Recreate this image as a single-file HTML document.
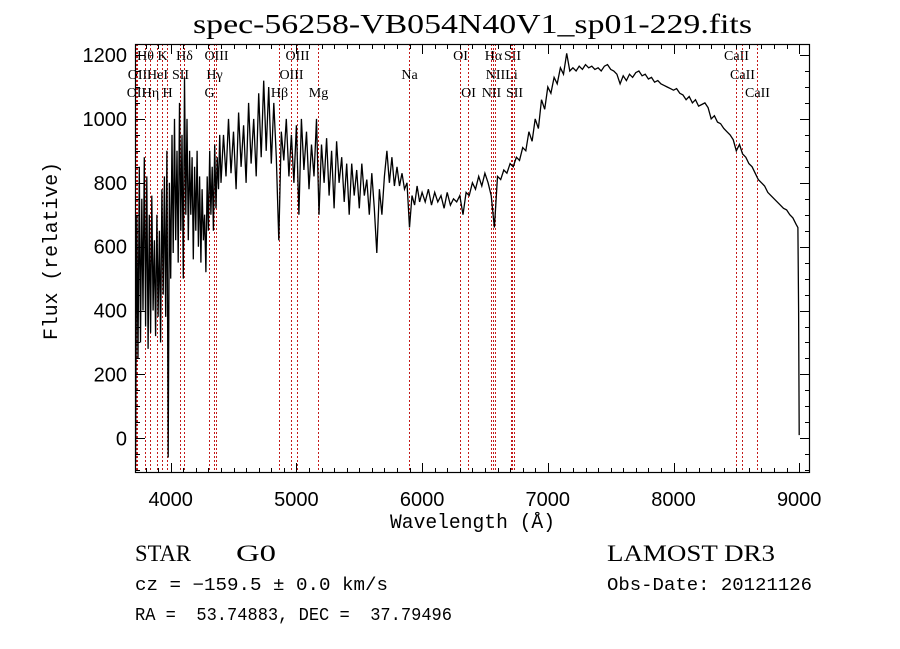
<!DOCTYPE html>
<html><head><meta charset="utf-8"><style>
html,body{margin:0;padding:0;background:#fff;}
svg{display:block;}
</style></head><body>
<svg id="chart" width="900" height="649" viewBox="0 0 900 649" xmlns="http://www.w3.org/2000/svg">
<rect x="0" y="0" width="900" height="649" fill="#fff"/>
<text x="193" y="33" font-family="Liberation Serif, serif" font-size="27" textLength="559" lengthAdjust="spacingAndGlyphs">spec-56258-VB054N40V1_sp01-229.fits</text>
<g id="lines"></g>
<g id="ticks"></g>
<path id="spec" fill="none" stroke="#000" stroke-width="1.3" clip-path="url(#clip)"/>
<clipPath id="clip"><rect x="135" y="44" width="675" height="429"/></clipPath>
<rect x="135.5" y="44.5" width="674" height="428" fill="none" stroke="#000" stroke-width="1.2"/>
<text x="390" y="528" font-family="Liberation Mono, monospace" font-size="20" textLength="165" lengthAdjust="spacingAndGlyphs">Wavelength (Å)</text>
<text transform="translate(57,340) rotate(-90)" font-family="Liberation Mono, monospace" font-size="20" textLength="178" lengthAdjust="spacingAndGlyphs">Flux (relative)</text>
<text x="135" y="561" font-family="Liberation Serif, serif" font-size="23" textLength="56" lengthAdjust="spacingAndGlyphs">STAR</text>
<text x="236" y="561" font-family="Liberation Serif, serif" font-size="23" textLength="40" lengthAdjust="spacingAndGlyphs">G0</text>
<text x="607" y="561" font-family="Liberation Serif, serif" font-size="23" textLength="168" lengthAdjust="spacingAndGlyphs">LAMOST DR3</text>
<text x="135" y="590" font-family="Liberation Mono, monospace" font-size="18" textLength="253" lengthAdjust="spacingAndGlyphs">cz = −159.5 ± 0.0 km/s</text>
<text x="607" y="590" font-family="Liberation Mono, monospace" font-size="18" textLength="205" lengthAdjust="spacingAndGlyphs">Obs-Date: 20121126</text>
<text x="135" y="620" font-family="Liberation Mono, monospace" font-size="18" textLength="317" lengthAdjust="spacingAndGlyphs" xml:space="preserve">RA =  53.74883, DEC =  37.79496</text>
</svg>
<script>
const waves = [3720,3730,3740,3750,3760,3770,3780,3790,3800,3810,3820,3830,3840,3850,3860,3870,3880,3890,3900,3910,3920,3930,3940,3950,3960,3970,3980,3990,4000,4010,4020,4030,4040,4050,4060,4070,4080,4090,4100,4110,4120,4130,4140,4150,4160,4170,4180,4190,4200,4210,4220,4230,4240,4250,4260,4270,4280,4290,4300,4310,4320,4330,4340,4350,4360,4370,4380,4390,4400,
4420,4440,4460,4480,4500,4520,4540,4560,4580,4600,4620,4640,4660,4680,4700,4720,4740,4760,4780,4800,4820,4840,4860,4880,4900,4920,4940,4960,4980,5000,5020,5040,5060,5080,5100,5120,5140,5160,5180,5200,5220,5240,5260,5280,5300,5320,5340,5360,5380,5400,5420,5440,5460,5480,5500,5520,5540,5560,5580,5600,5620,5640,5660,5680,5700,5720,5740,5760,5780,5800,5820,5840,5860,5880,5900,5920,5940,5960,5980,6000,
6025,6050,6075,6100,6125,6150,6175,6200,6225,6250,6275,6300,6325,6350,6375,6400,6425,6450,6475,6500,6525,6550,6575,6600,6625,6650,6675,6700,6725,6750,6775,6800,6825,6850,6875,6900,6925,6950,6975,7000,7025,7050,7075,7100,7125,7150,7175,7200,7225,7250,7275,7300,7325,7350,7375,7400,7425,7450,7475,7500,7525,7550,7575,7600,7625,7650,7675,7700,7725,7750,7775,7800,7825,7850,7875,7900,7925,7950,7975,8000,8025,8050,8075,8100,8125,8150,8175,8200,8225,8250,8275,8300,8325,8350,8375,8400,8425,8450,8475,8500,8525,8550,8575,8600,8625,8650,8675,8700,8725,8750,8775,8800,8825,8850,8875,8900,8925,8950,8975,8990,8995,9000];
const flux = [-80,700,250,850,300,750,400,880,350,820,280,700,330,760,400,620,320,700,380,650,300,780,450,820,380,900,-60,800,500,950,580,1000,620,900,550,1050,650,950,500,1130,700,1000,620,900,700,880,560,850,650,900,600,820,550,780,620,700,520,820,650,900,700,850,650,920,720,880,780,950,800,
950,820,1000,830,960,780,1020,850,980,800,1050,860,1000,820,1080,880,1120,900,1100,860,1050,880,620,960,870,1000,820,950,800,980,700,1000,840,960,780,920,820,1000,700,920,800,940,760,900,720,930,800,880,740,860,700,860,760,840,720,860,760,810,700,830,720,580,780,700,820,900,800,880,790,850,790,830,780,800,660,760,730,790,740,770,
740,780,730,770,740,760,720,770,730,750,740,760,700,770,760,800,780,820,790,830,800,760,660,820,810,840,830,860,850,880,870,910,900,960,930,1000,970,1060,1030,1100,1080,1130,1110,1160,1140,1205,1150,1160,1150,1165,1155,1170,1160,1165,1155,1160,1150,1165,1170,1155,1150,1140,1110,1135,1120,1140,1130,1145,1150,1135,1140,1125,1130,1115,1120,1110,1105,1100,1095,1090,1095,1080,1075,1060,1070,1050,1060,1040,1045,1050,1035,1000,1010,990,985,970,960,950,935,900,920,890,880,860,850,830,810,800,790,770,760,750,740,730,720,715,700,690,670,660,400,10];
const lineWaves = [3798,3934,4102,4363,5007,6300,6563,6717,8498, 3729,3889,4072,4341,4959,5894,6583,6708,8542, 3726,3835,3969,4304,4861,5175,6364,6548,6731,8662];
const lineNames = ["Hθ","K","Hδ","OIII","OIII","OI","Hα","SII","CaII", "OII","HeI","SII","Hγ","OIII","Na","NII","Li","CaII", "OII","Hη","H","G","Hβ","Mg","OI","NII","SII","CaII"];
const lineRows = [0,0,0,0,0,0,0,0,0, 1,1,1,1,1,1,1,1,1, 2,2,2,2,2,2,2,2,2,2];
const xTickLabels = [4000,5000,6000,7000,8000,9000];
const yTickLabels = [0,200,400,600,800,1000,1200];

const NS = "http://www.w3.org/2000/svg";
const X0 = 135, X1 = 810, Y0 = 473, Y1 = 44;
function xScale(w){ return 170.7 + (w - 4000) * 0.1257; }
function yScale(v){ return 438.3 - v * 0.3194; }
const wMin = 4000 - (170.7 - X0) / 0.1257, wMax = 4000 + (X1 - 170.7) / 0.1257;
const vMin = (438.3 - Y0) / 0.3194, vMax = (438.3 - Y1) / 0.3194;

// spectrum
let d = "";
for (let i = 0; i < waves.length; i++) {
  d += (i ? "L" : "M") + xScale(waves[i]).toFixed(1) + "," + yScale(flux[i]).toFixed(1);
}
document.getElementById("spec").setAttribute("d", d);

// line markers
const lg = document.getElementById("lines");
const rowY = [60, 79, 97];
for (let i = 0; i < lineWaves.length; i++) {
  const x = Math.round(xScale(lineWaves[i])) + 0.5;
  const ln = document.createElementNS(NS, "line");
  ln.setAttribute("x1", x); ln.setAttribute("x2", x);
  ln.setAttribute("y1", Y1); ln.setAttribute("y2", Y0);
  ln.setAttribute("stroke", "#c41a1a"); ln.setAttribute("stroke-width", "1");
  ln.setAttribute("stroke-dasharray", "2,2");
  
  
  lg.appendChild(ln);
  const t = document.createElementNS(NS, "text");
  t.setAttribute("x", x); t.setAttribute("y", rowY[lineRows[i]]);
  t.setAttribute("text-anchor", "middle");
  t.setAttribute("font-family", "Liberation Serif, serif");
  t.setAttribute("font-size", "14");
  t.textContent = lineNames[i];
  
  
  lg.appendChild(t);
}

// ticks
const tg = document.getElementById("ticks");
function tick(x1, y1, x2, y2) {
  const l = document.createElementNS(NS, "line");
  l.setAttribute("x1", x1); l.setAttribute("y1", y1); l.setAttribute("x2", x2); l.setAttribute("y2", y2);
  l.setAttribute("stroke", "#000"); l.setAttribute("stroke-width", "1");
  
  
  tg.appendChild(l);
}
for (let w = 3800; w <= wMax; w += 100) {
  const x = Math.round(xScale(w)) + 0.5;
  const len = (w % 1000 === 0) ? 10 : 5;
  tick(x, Y0, x, Y0 - len);
  tick(x, Y1, x, Y1 + len);
}
for (let v = -100; v <= vMax; v += 50) {
  const y = Math.round(yScale(v)) + 0.5;
  const len = (v % 200 === 0) ? 10 : 5;
  tick(X0, y, X0 + len, y);
  tick(X1, y, X1 - len, y);
}
xTickLabels.forEach(w => {
  const t = document.createElementNS(NS, "text");
  t.setAttribute("x", xScale(w)); t.setAttribute("y", 506);
  t.setAttribute("text-anchor", "middle");
  t.setAttribute("font-family", "Liberation Sans, sans-serif");
  t.setAttribute("font-size", "20");
  t.textContent = w;
  
  
  tg.appendChild(t);
});
yTickLabels.forEach(v => {
  const t = document.createElementNS(NS, "text");
  t.setAttribute("x", 127); t.setAttribute("y", yScale(v) + 7);
  t.setAttribute("text-anchor", "end");
  t.setAttribute("font-family", "Liberation Sans, sans-serif");
  t.setAttribute("font-size", "20");
  t.textContent = v;
  
  
  tg.appendChild(t);
});
</script>
</body></html>
